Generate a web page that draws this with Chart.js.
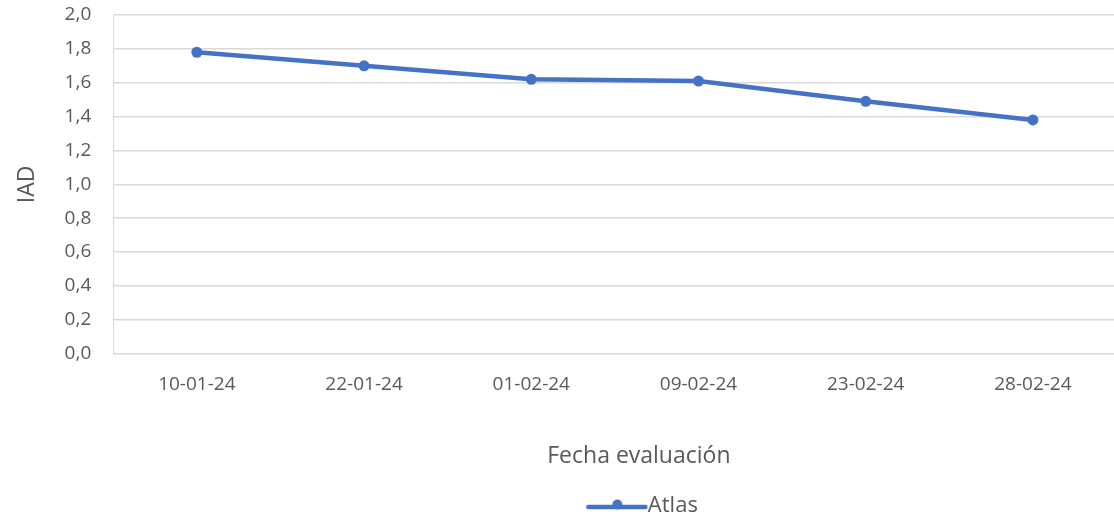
<!DOCTYPE html>
<html>
<head>
<meta charset="utf-8">
<script src="https://cdn.jsdelivr.net/npm/chart.js@4.4.1/dist/chart.umd.min.js"></script>
<style>
  html, body { margin: 0; padding: 0; background: #fff; overflow: hidden; }
  #wrap { width: 1114px; height: 518px; overflow: hidden; }
</style>
</head>
<body>
<div id="wrap"><canvas id="myChart" width="1122" height="518"></canvas></div>
<script>
var fechas = ['10-01-24', '22-01-24', '01-02-24', '09-02-24', '23-02-24', '28-02-24'];
var atlas_data = [1.78, 1.70, 1.62, 1.61, 1.49, 1.38];
var serieNombre = 'Atlas';

var azul = '#4472C4';
var gris = '#595959';

// legend symbol: line with a dot, drawn on the right half of a wider canvas
var legendIcon = document.createElement('canvas');
legendIcon.width = 128;
legendIcon.height = 16;
(function(){
  var c = legendIcon.getContext('2d');
  c.strokeStyle = azul;
  c.lineWidth = 4.5;
  c.lineCap = 'round';
  c.beginPath();
  c.moveTo(68, 9);
  c.lineTo(125, 9);
  c.stroke();
  c.fillStyle = azul;
  c.beginPath();
  c.arc(97, 6.5, 5, 0, Math.PI * 2);
  c.fill();
})();

Chart.defaults.font.family = "'Open Sans', 'Noto Sans', sans-serif";
Chart.defaults.color = gris;

// the x title sits a bit right of the plot centre in the original
function shiftXTitle(s){
  if (s._shifted) return;
  var orig = s.drawTitle;
  s.drawTitle = function(){
    this.ctx.save();
    this.ctx.translate(24, 0);
    orig.apply(this, arguments);
    this.ctx.restore();
  };
  s._shifted = true;
}

var ctx = document.getElementById("myChart");
var lineChart = new Chart(ctx, {
  type: 'line',
  data: {
    labels: fechas,
    datasets: [{
      label: serieNombre,
      data: atlas_data,
      borderColor: azul,
      backgroundColor: azul,
      borderWidth: 4.5,
      pointRadius: 5.5,
      pointBackgroundColor: azul,
      pointBorderWidth: 0,
      tension: 0
    }]
  },
  options: {
    responsive: false,
    animation: false,
    layout: { padding: { top: 0, right: 0, left: 14, bottom: -9 } },
    plugins: {
      tooltip: { enabled: false },
      legend: {
        position: 'bottom',
        fullSize: false,
        labels: {
          usePointStyle: true,
          pointStyle: legendIcon,
          pointStyleWidth: 105,
          boxHeight: 16,
          padding: 0,
          color: gris,
          font: { size: 22 },
          generateLabels: function(chart){
            return [{ text: serieNombre, pointStyle: legendIcon, fillStyle: azul, strokeStyle: azul, fontColor: gris, lineWidth: 0, datasetIndex: 0 }];
          }
        }
      }
    },
    scales: {
      x: {
        offset: true,
        afterFit: function(s){ s.paddingLeft = 0; s.paddingRight = 0; shiftXTitle(s); },
        grid: { display: false, drawTicks: false },
        border: { display: true, color: '#d9d9d9', width: 1 },
        ticks: { padding: 20, font: { size: 19 }, color: gris, maxRotation: 0 },
        title: { display: true, text: 'Fecha evaluación', font: { size: 23 }, color: gris, padding: { top: 26, bottom: 25 } }
      },
      y: {
        min: 0,
        max: 2,
        afterFit: function(s){ s.paddingTop = 15; },
        grid: { color: '#d9d9d9', lineWidth: 1.5, drawTicks: false },
        border: { display: true, color: '#d9d9d9', width: 1 },
        ticks: {
          stepSize: 0.2,
          padding: 22,
          font: { size: 19 },
          color: gris,
          callback: function(v){ return v.toFixed(1).replace('.', ','); }
        },
        title: { display: true, text: 'IAD', font: { size: 23 }, color: gris, padding: { top: 0, bottom: 1 } }
      }
    }
  }
});
</script>
</body>
</html>
